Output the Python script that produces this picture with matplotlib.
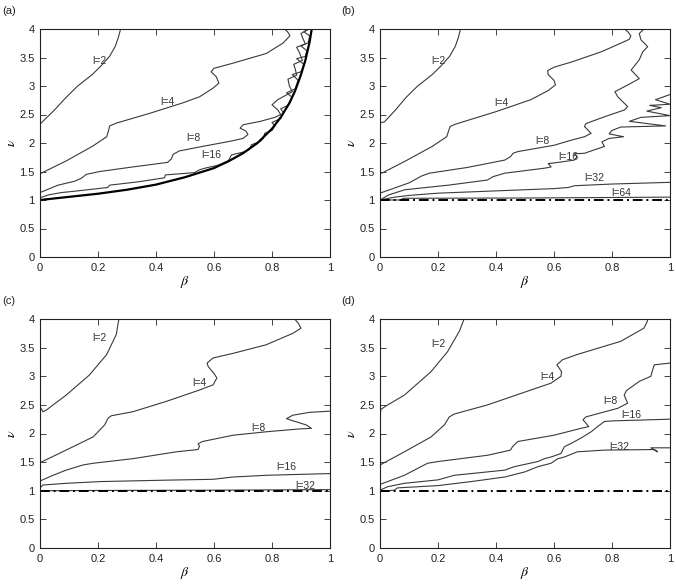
import numpy as np
import matplotlib
matplotlib.use("Agg")
from matplotlib import pyplot as plt
from matplotlib.ticker import FormatStrFormatter

# ---------------- data (beta, nu) ----------------
# panel (a)
a_l2_b = [0.0, 0.01, 0.05, 0.09, 0.13, 0.18, 0.21, 0.24, 0.26, 0.27, 0.278]
a_l2_v = [2.33, 2.38, 2.58, 2.80, 3.00, 3.20, 3.35, 3.52, 3.70, 3.85, 4.0]
a_l4_b = [0.0, 0.092, 0.18, 0.23, 0.237, 0.24, 0.264, 0.378, 0.49, 0.55, 0.596, 0.617, 0.608, 0.59, 0.60, 0.665, 0.78, 0.837, 0.862, 0.854, 0.843]
a_l4_v = [1.46, 1.69, 1.94, 2.11, 2.23, 2.30, 2.35, 2.52, 2.70, 2.81, 2.96, 3.05, 3.16, 3.25, 3.31, 3.40, 3.57, 3.75, 3.88, 3.95, 4.0]
a_l8_b = [0.0, 0.062, 0.12, 0.142, 0.16, 0.206, 0.32, 0.44, 0.453, 0.459, 0.48, 0.55, 0.655, 0.70, 0.717, 0.71, 0.69, 0.70, 0.76, 0.81, 0.83, 0.82, 0.80, 0.82, 0.87, 0.86, 0.855, 0.885, 0.88, 0.875, 0.905, 0.895, 0.885, 0.915, 0.905, 0.90, 0.925]
a_l8_v = [1.13, 1.26, 1.33, 1.38, 1.45, 1.50, 1.58, 1.66, 1.72, 1.80, 1.86, 1.93, 2.03, 2.08, 2.15, 2.21, 2.26, 2.32, 2.38, 2.45, 2.50, 2.58, 2.67, 2.76, 2.90, 3.00, 3.12, 3.19, 3.30, 3.38, 3.45, 3.58, 3.68, 3.74, 3.85, 3.92, 4.0]
a_l16_b = [0.0, 0.03, 0.073, 0.13, 0.234, 0.24, 0.34, 0.43, 0.432, 0.533, 0.55, 0.57, 0.614, 0.65, 0.66, 0.70, 0.72, 0.73, 0.76, 0.77, 0.775, 0.80, 0.81, 0.80, 0.83, 0.84, 0.83, 0.855, 0.87, 0.85, 0.88, 0.89, 0.87, 0.90, 0.91, 0.885, 0.915, 0.92, 0.90, 0.925, 0.93, 0.91, 0.928]
a_l16_v = [1.04, 1.09, 1.13, 1.16, 1.22, 1.26, 1.32, 1.39, 1.44, 1.48, 1.53, 1.56, 1.61, 1.69, 1.79, 1.84, 1.88, 1.97, 2.03, 2.08, 2.17, 2.22, 2.30, 2.36, 2.43, 2.53, 2.60, 2.66, 2.80, 2.88, 2.95, 3.10, 3.20, 3.25, 3.38, 3.48, 3.52, 3.62, 3.70, 3.76, 3.88, 3.95, 4.0]
a_bnd_b = [0.0, 0.1, 0.2, 0.3, 0.4, 0.5, 0.6, 0.65, 0.7, 0.75, 0.8, 0.83, 0.86, 0.88, 0.9, 0.915, 0.93, 0.937]
a_bnd_v = [1.0, 1.055, 1.11, 1.18, 1.27, 1.40, 1.56, 1.68, 1.82, 2.0, 2.25, 2.45, 2.70, 2.92, 3.2, 3.45, 3.78, 4.0]

# panel (b)
b_l2_b = [0.005, 0.015, 0.05, 0.09, 0.13, 0.18, 0.21, 0.24, 0.26, 0.27, 0.278]
b_l2_v = [2.36, 2.37, 2.56, 2.80, 3.00, 3.20, 3.35, 3.52, 3.70, 3.85, 4.0]
b_l4_b = [0.006, 0.09, 0.18, 0.23, 0.237, 0.242, 0.26, 0.4, 0.52, 0.58, 0.605, 0.6, 0.58, 0.578, 0.6, 0.66, 0.763, 0.83, 0.86, 0.865, 0.855, 0.843]
b_l4_v = [1.47, 1.69, 1.94, 2.11, 2.22, 2.29, 2.33, 2.55, 2.76, 2.92, 3.02, 3.10, 3.20, 3.27, 3.33, 3.42, 3.60, 3.75, 3.82, 3.88, 3.95, 4.0]
b_l8_b = [0.0, 0.1, 0.143, 0.17, 0.3, 0.43, 0.45, 0.459, 0.476, 0.6, 0.66, 0.705, 0.728, 0.705, 0.71, 0.774, 0.843, 0.854, 0.82, 0.81, 0.866, 0.894, 0.866, 0.894, 0.906, 0.923, 0.90, 0.894, 0.91]
b_l8_v = [1.12, 1.30, 1.42, 1.47, 1.57, 1.70, 1.76, 1.82, 1.85, 1.96, 2.05, 2.11, 2.17, 2.29, 2.34, 2.46, 2.58, 2.64, 2.81, 2.90, 3.05, 3.13, 3.28, 3.46, 3.60, 3.69, 3.81, 3.92, 4.0]
b_l16_b = [0.0, 0.03, 0.086, 0.235, 0.37, 0.39, 0.43, 0.57, 0.59, 0.58, 0.60, 0.67, 0.68, 0.67, 0.705, 0.774, 0.765, 0.79, 0.84, 0.79, 0.80, 0.83, 0.985, 0.86, 0.90, 1.0, 0.92, 0.97, 0.93, 1.0, 0.95, 1.0]
b_l16_v = [1.0, 1.09, 1.18, 1.26, 1.35, 1.41, 1.47, 1.56, 1.58, 1.64, 1.65, 1.70, 1.76, 1.81, 1.82, 1.94, 2.02, 2.08, 2.11, 2.16, 2.22, 2.28, 2.30, 2.38, 2.45, 2.48, 2.56, 2.62, 2.66, 2.68, 2.76, 2.85]
b_l32_b = [0.0, 0.05, 0.1, 0.2, 0.4, 0.6, 0.65, 0.67, 0.8, 1.0]
b_l32_v = [1.0, 1.05, 1.08, 1.12, 1.16, 1.20, 1.22, 1.25, 1.28, 1.31]
b_l64_b = [0.0, 0.07, 0.08, 0.5, 1.0]
b_l64_v = [1.0, 1.0, 1.03, 1.035, 1.05]

# panel (c)
c_l2_b = [0.0, 0.01, 0.022, 0.09, 0.17, 0.23, 0.263, 0.272]
c_l2_v = [2.47, 2.38, 2.41, 2.67, 3.02, 3.38, 3.73, 4.0]
c_l4_b = [0.0, 0.09, 0.183, 0.223, 0.235, 0.246, 0.32, 0.435, 0.55, 0.597, 0.61, 0.60, 0.58, 0.576, 0.597, 0.666, 0.78, 0.872, 0.90, 0.89, 0.878]
c_l4_v = [1.49, 1.71, 1.94, 2.15, 2.27, 2.31, 2.38, 2.56, 2.76, 2.85, 2.97, 3.05, 3.17, 3.23, 3.32, 3.40, 3.55, 3.75, 3.84, 3.93, 4.0]
c_l8_b = [0.0, 0.045, 0.09, 0.148, 0.183, 0.32, 0.47, 0.545, 0.55, 0.545, 0.56, 0.666, 0.78, 0.895, 0.936, 0.918, 0.861, 0.85, 0.872, 0.93, 1.0]
c_l8_v = [1.17, 1.27, 1.36, 1.45, 1.48, 1.56, 1.68, 1.72, 1.78, 1.82, 1.86, 1.97, 2.03, 2.08, 2.09, 2.15, 2.24, 2.26, 2.32, 2.37, 2.39]
c_l16_b = [0.0, 0.01, 0.09, 0.206, 0.435, 0.597, 0.666, 0.78, 1.0]
c_l16_v = [1.05, 1.10, 1.13, 1.16, 1.185, 1.20, 1.24, 1.27, 1.30]
c_l32_b = [0.0, 0.2, 0.6, 1.0]
c_l32_v = [1.0, 1.005, 1.01, 1.02]

# panel (d)
d_l2_b = [0.0, 0.003, 0.02, 0.084, 0.176, 0.233, 0.274, 0.29]
d_l2_v = [2.30, 2.42, 2.48, 2.67, 3.08, 3.43, 3.79, 4.0]
d_l4_b = [0.0, 0.084, 0.176, 0.222, 0.239, 0.256, 0.371, 0.486, 0.59, 0.624, 0.626, 0.61, 0.63, 0.68, 0.83, 0.91, 0.922, 0.922]
d_l4_v = [1.45, 1.68, 1.94, 2.15, 2.29, 2.34, 2.50, 2.70, 2.88, 3.0, 3.08, 3.20, 3.29, 3.38, 3.61, 3.84, 3.96, 4.0]
d_l8_b = [0.0, 0.084, 0.164, 0.2, 0.371, 0.45, 0.457, 0.475, 0.6, 0.693, 0.72, 0.70, 0.71, 0.82, 0.854, 0.842, 0.85, 0.894, 0.934, 0.94, 0.946, 1.0]
d_l8_v = [1.11, 1.27, 1.48, 1.51, 1.62, 1.71, 1.77, 1.86, 1.97, 2.09, 2.12, 2.24, 2.29, 2.44, 2.53, 2.67, 2.75, 2.91, 3.0, 3.11, 3.20, 3.23]
d_l16_b = [0.0, 0.026, 0.084, 0.2, 0.256, 0.43, 0.463, 0.544, 0.567, 0.59, 0.624, 0.636, 0.66, 0.693, 0.728, 0.75, 0.774, 0.8, 1.0]
d_l16_v = [1.01, 1.07, 1.13, 1.19, 1.27, 1.36, 1.42, 1.51, 1.56, 1.59, 1.65, 1.77, 1.83, 1.92, 2.03, 2.12, 2.21, 2.22, 2.25]
d_l32_b = [0.0, 0.05, 0.06, 0.2, 0.314, 0.43, 0.5, 0.544, 0.59, 0.613, 0.636, 0.68, 0.774, 0.946, 0.957, 0.934, 1.0]
d_l32_v = [0.99, 1.01, 1.05, 1.09, 1.16, 1.24, 1.33, 1.42, 1.48, 1.56, 1.59, 1.68, 1.71, 1.72, 1.68, 1.75, 1.75]

# label text and positions (beta, nu)
a_labels = [("l=2", 0.205, 3.43), ("l=4", 0.44, 2.72), ("l=8", 0.53, 2.08), ("l=16", 0.59, 1.79)]
b_labels = [("l=2", 0.2, 3.43), ("l=4", 0.42, 2.70), ("l=8", 0.56, 2.04), ("l=16", 0.65, 1.76),
            ("l=32", 0.74, 1.39), ("l=64", 0.83, 1.12)]
c_labels = [("l=2", 0.206, 3.67), ("l=4", 0.55, 2.88), ("l=8", 0.752, 2.09), ("l=16", 0.85, 1.42),
            ("l=32", 0.915, 1.09)]
d_labels = [("l=2", 0.2, 3.56), ("l=4", 0.576, 2.98), ("l=8", 0.794, 2.56), ("l=16", 0.865, 2.32),
            ("l=32", 0.825, 1.77)]

plt.rcParams['font.family'] = ['Liberation Sans', 'DejaVu Sans']
plt.rcParams['mathtext.fontset'] = 'stix'
LC = "#3a3a3a"


def style(ax, tag, x0):
    ax.set_xlim(0, 1)
    ax.set_ylim(0, 4)
    ax.set_xticks(np.arange(0, 1.01, 0.2))
    ax.set_yticks(np.arange(0, 4.01, 0.5))
    ax.xaxis.set_major_formatter(FormatStrFormatter('%g'))
    ax.yaxis.set_major_formatter(FormatStrFormatter('%g'))
    ax.tick_params(direction="in", top=True, right=True, length=4, width=0.6,
                   labelsize=8, colors="#222", pad=4)
    for s in ax.spines.values():
        s.set_linewidth(0.8)
        s.set_color("#222")
    ax.set_xlabel(r"$\beta$", fontsize=10, labelpad=1)
    ax.set_ylabel(r"$\nu$", fontsize=10, labelpad=1)
    fig.text(x0, ax.get_position().y1 + 0.025, tag, fontsize=8, color="#222")


fig = plt.figure(figsize=(6.76, 5.87), dpi=100)
W, H = 290 / 676, 228 / 587
ax_a = fig.add_axes([40 / 676, 1 - 257 / 587, W, H])
ax_b = fig.add_axes([380 / 676, 1 - 257 / 587, W, H])
ax_c = fig.add_axes([40 / 676, 1 - 548 / 587, W, 229 / 587])
ax_d = fig.add_axes([380 / 676, 1 - 548 / 587, W, 229 / 587])

# (a)
for bb, vv in [(a_l2_b, a_l2_v), (a_l4_b, a_l4_v), (a_l8_b, a_l8_v), (a_l16_b, a_l16_v)]:
    ax_a.plot(bb, vv, color=LC, lw=0.8)
ax_a.plot(a_bnd_b, a_bnd_v, color="black", lw=1.6)

# (b)
for bb, vv in [(b_l2_b, b_l2_v), (b_l4_b, b_l4_v), (b_l8_b, b_l8_v), (b_l16_b, b_l16_v),
               (b_l32_b, b_l32_v), (b_l64_b, b_l64_v)]:
    ax_b.plot(bb, vv, color=LC, lw=0.8)

# (c)
for bb, vv in [(c_l2_b, c_l2_v), (c_l4_b, c_l4_v), (c_l8_b, c_l8_v), (c_l16_b, c_l16_v),
               (c_l32_b, c_l32_v)]:
    ax_c.plot(bb, vv, color=LC, lw=0.8)

# (d)
for bb, vv in [(d_l2_b, d_l2_v), (d_l4_b, d_l4_v), (d_l8_b, d_l8_v), (d_l16_b, d_l16_v),
               (d_l32_b, d_l32_v)]:
    ax_d.plot(bb, vv, color=LC, lw=0.8)

for ax in (ax_b, ax_c, ax_d):
    ax.axhline(1.0, color="black", lw=1.4, linestyle=(0, (5, 2, 1, 2)))

for ax, labs in [(ax_a, a_labels), (ax_b, b_labels), (ax_c, c_labels), (ax_d, d_labels)]:
    for t, x, y in labs:
        ax.text(x, y, t, fontsize=7.5, color="#333", ha="center", va="center")

style(ax_a, "(a)", 0.004)
style(ax_b, "(b)", 0.505)
style(ax_c, "(c)", 0.004)
style(ax_d, "(d)", 0.505)

fig.savefig("out.png", dpi=100)
